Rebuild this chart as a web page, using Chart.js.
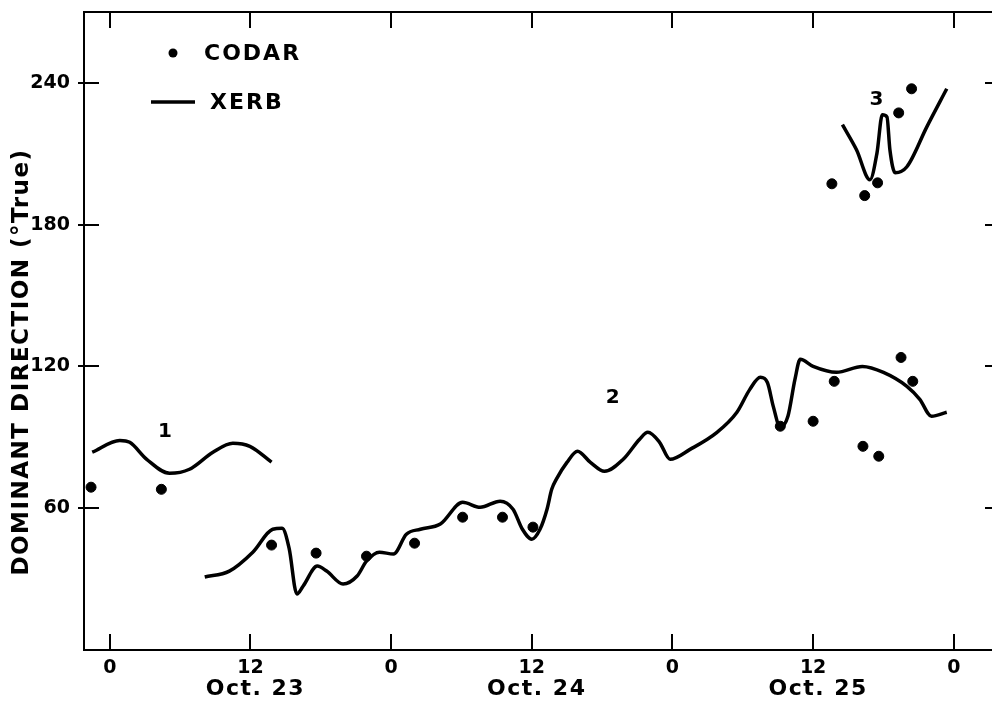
<!DOCTYPE html>
<html>
<head>
<meta charset="utf-8">
<script src="https://cdn.jsdelivr.net/npm/chart.js@4.4.1/dist/chart.umd.min.js"></script>
<style>
  html, body { margin: 0; padding: 0; background: #fff; overflow: hidden; }
  #wrap { width: 992px; height: 703px; position: relative; }
</style>
</head>
<body>
<div id="wrap"><canvas id="chart"></canvas></div>
<script>
// hours from Oct 23 00:00, direction in degrees true
const xerb1Hours = [-1.5, 0.85, 1.7, 3.15, 5.1, 6.8, 8.8, 10.5, 11.95, 13.8];
const xerb1Dir   = [83.7, 88.7, 87.9, 80.7, 74.8, 76.5, 83.7, 87.5, 86.2, 79.5];

const xerb2Hours = [8.1, 10.2, 12.2, 13.9, 14.7, 15.3, 15.96, 16.5, 17.7, 18.5, 19.9, 21.1, 21.9, 23.0, 24.2,
  25.3, 26.5, 28.2, 30.1, 31.6, 33.3, 34.4, 35.2, 36.0, 36.7, 37.3, 37.7, 38.1, 39.0, 39.9, 41.0, 42.2,
  43.8, 45.2, 45.9, 46.9, 47.8, 49.5, 51.8, 53.5, 54.6, 55.5, 56.1, 56.6, 57.2, 57.85, 58.45, 58.9, 60.0,
  62.0, 64.2, 66.0, 68.0, 69.1, 70.1, 71.4];
const xerb2Dir   = [30.9, 33.4, 41.4, 51.1, 51.5, 43.0, 23.7, 27.1, 35.5, 33.4, 27.9, 31.3, 37.6, 41.4, 40.6,
  49.0, 51.1, 53.3, 62.5, 60.4, 63.0, 59.6, 51.1, 46.9, 51.1, 59.6, 68.0, 72.3, 79.4, 84.1, 79.4, 75.6,
  80.7, 89.2, 92.1, 87.9, 80.7, 84.9, 92.1, 100.6, 110.3, 115.4, 113.2, 103.1, 94.2, 98.9, 114.5, 123.0, 120.0,
  117.5, 120.0, 117.5, 111.6, 106.1, 98.9, 100.6];

const xerb3Hours = [62.5, 63.7, 64.85, 65.45, 65.9, 66.3, 66.55, 67.0, 68.0, 69.7, 71.4];
const xerb3Dir   = [222.3, 211.7, 199.0, 210.4, 226.5, 225.6, 211.7, 202.0, 204.5, 221.4, 237.5];

const codarHours = [-1.6, 4.4, 13.8, 17.6, 21.9, 26.0, 30.1, 33.5, 36.1, 57.2, 60.0, 61.8, 64.25, 65.6, 67.5, 68.5,
  61.6, 64.4, 65.5, 67.3, 68.4];
const codarDir   = [68.9, 68.0, 44.4, 41.0, 39.7, 45.2, 56.2, 56.2, 52.0, 94.7, 96.8, 113.7, 86.2, 82.0, 123.8, 113.7,
  197.3, 192.3, 197.7, 227.3, 237.5];

const segmentLabels = ['1', '2', '3'];
const segmentLabelHours = [4.7, 42.9, 65.4];
const segmentLabelDir = [92.5, 106.9, 232.8];

const xTickHours = [0, 12, 24, 36, 48, 60, 72];
const yTickValues = [60, 120, 180, 240];
const dateLabels = ['Oct. 23', 'Oct. 24', 'Oct. 25'];
const dateLabelHours = [12, 36, 60];

const FONT = '"DejaVu Sans", sans-serif';

function pts(xs, ys) {
  return xs.map((x, i) => ({ x: x, y: ys[i] }));
}

function xerbSet(xs, ys) {
  return {
    type: 'line',
    label: 'XERB',
    data: pts(xs, ys),
    borderColor: '#000',
    borderWidth: 3.5,
    pointRadius: 0,
    fill: false,
    cubicInterpolationMode: 'monotone'
  };
}

const decorations = {
  id: 'decorations',
  afterDraw(chart) {
    const ctx = chart.ctx;
    const xs = chart.scales.x;
    const ys = chart.scales.y;
    const area = chart.chartArea;
    ctx.save();
    ctx.strokeStyle = '#000';
    ctx.fillStyle = '#000';
    ctx.lineWidth = 2;

    // top frame line
    ctx.beginPath();
    ctx.moveTo(area.left, area.top);
    ctx.lineTo(area.right, area.top);
    ctx.stroke();

    // inward tick marks
    ctx.beginPath();
    xTickHours.forEach(h => {
      const px = Math.round(xs.getPixelForValue(h));
      ctx.moveTo(px, area.bottom); ctx.lineTo(px, area.bottom - 16);
      ctx.moveTo(px, area.top); ctx.lineTo(px, area.top + 16);
    });
    yTickValues.forEach(v => {
      const py = Math.round(ys.getPixelForValue(v));
      ctx.moveTo(area.left - 6, py); ctx.lineTo(area.left + 15, py);
      ctx.moveTo(area.right - 7, py); ctx.lineTo(area.right, py);
    });
    ctx.stroke();

    // date labels under the noon ticks
    ctx.letterSpacing = '1.5px';
    ctx.font = 'bold 22px ' + FONT;
    ctx.textAlign = 'center';
    ctx.textBaseline = 'middle';
    dateLabels.forEach((t, i) => {
      ctx.fillText(t, xs.getPixelForValue(dateLabelHours[i]) + 5, 689);
    });

    // segment numbers
    ctx.letterSpacing = '0px';
    ctx.font = 'bold 20px ' + FONT;
    segmentLabels.forEach((t, i) => {
      ctx.fillText(t, xs.getPixelForValue(segmentLabelHours[i]), ys.getPixelForValue(segmentLabelDir[i]));
    });

    // legend
    ctx.beginPath();
    ctx.arc(173, 53, 4.5, 0, Math.PI * 2);
    ctx.fill();
    ctx.lineWidth = 3.5;
    ctx.beginPath();
    ctx.moveTo(151, 102);
    ctx.lineTo(195, 102);
    ctx.stroke();
    ctx.letterSpacing = '2px';
    ctx.font = 'bold 22px ' + FONT;
    ctx.textAlign = 'left';
    ctx.fillText('CODAR', 204, 54);
    ctx.fillText('XERB', 210, 103);

    // y axis title
    ctx.letterSpacing = '1.5px';
    ctx.font = 'bold 23px ' + FONT;
    ctx.textAlign = 'center';
    ctx.translate(22, 362);
    ctx.rotate(-Math.PI / 2);
    ctx.fillText('DOMINANT DIRECTION (°True)', 0, 0);
    ctx.restore();
  }
};

new Chart(document.getElementById('chart'), {
  data: {
    datasets: [
      xerbSet(xerb1Hours, xerb1Dir),
      xerbSet(xerb2Hours, xerb2Dir),
      xerbSet(xerb3Hours, xerb3Dir),
      {
        type: 'scatter',
        label: 'CODAR',
        data: pts(codarHours, codarDir),
        backgroundColor: '#000',
        borderColor: '#000',
        pointRadius: 5,
        pointHoverRadius: 5
      }
    ]
  },
  options: {
    responsive: true,
    maintainAspectRatio: false,
    animation: false,
    layout: { autoPadding: false, padding: { top: 12, right: 0, left: 0, bottom: 0 } },
    plugins: {
      legend: { display: false },
      title: { display: false },
      tooltip: { enabled: false }
    },
    scales: {
      x: {
        type: 'linear',
        min: -2.2,
        max: 75.26,
        afterBuildTicks: s => { s.ticks = xTickHours.map(v => ({ value: v })); },
        afterFit: s => { s.height = 53; s.paddingLeft = 0; s.paddingRight = 0; },
        grid: { display: false, drawTicks: false },
        border: { display: true, color: '#000', width: 2 },
        ticks: {
          padding: 7,
          color: '#000',
          font: { family: FONT, size: 19, weight: 'bold' },
          callback: v => String(v % 24)
        }
      },
      y: {
        type: 'linear',
        min: 0,
        max: 270,
        afterBuildTicks: s => { s.ticks = yTickValues.map(v => ({ value: v })); },
        afterFit: s => { s.width = 84; s.paddingTop = 0; s.paddingBottom = 0; },
        grid: { display: false, drawTicks: false },
        border: { display: true, color: '#000', width: 2 },
        ticks: {
          padding: 14,
          color: '#000',
          font: { family: FONT, size: 19, weight: 'bold' },
          callback: v => String(v)
        }
      }
    }
  },
  plugins: [decorations]
});
</script>
</body>
</html>
